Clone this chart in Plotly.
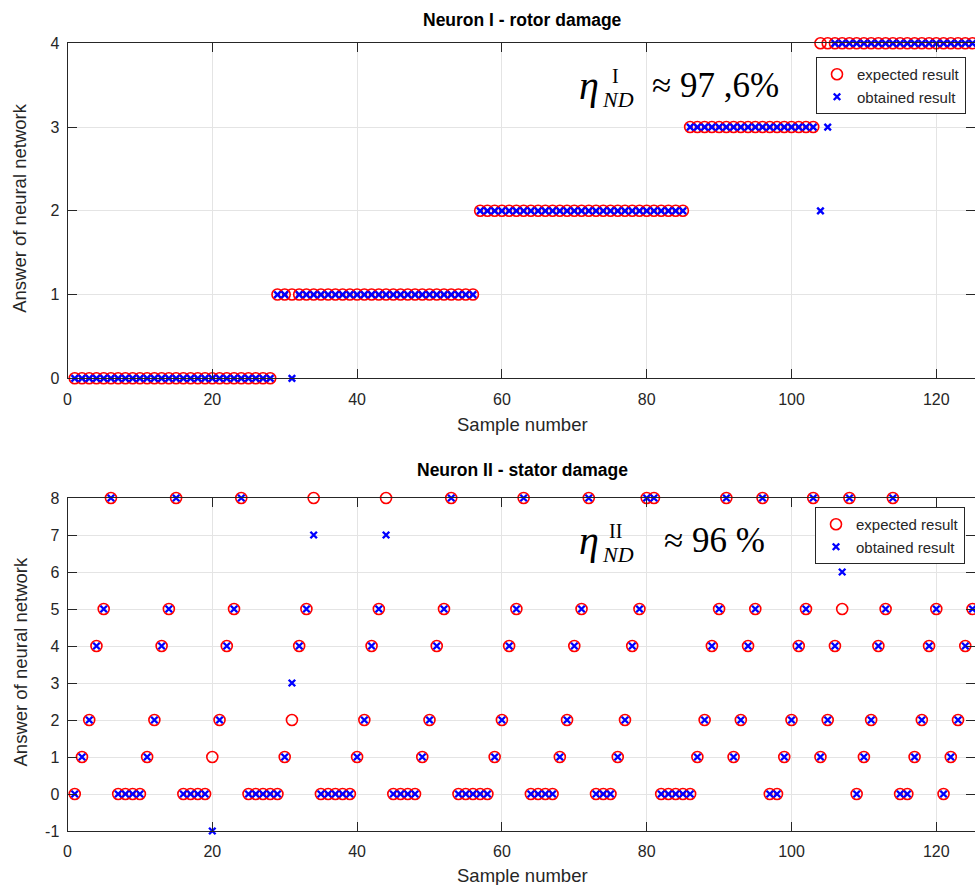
import plotly.graph_objects as go

W, H = 975, 885

# Sample index shared by both neurons
samples = list(range(1, 127))

# Neuron I - rotor damage
rotor_expected = [
    0, 0, 0, 0, 0, 0, 0, 0, 0, 0,
    0, 0, 0, 0, 0, 0, 0, 0, 0, 0,
    0, 0, 0, 0, 0, 0, 0, 0, 1, 1,
    1, 1, 1, 1, 1, 1, 1, 1, 1, 1,
    1, 1, 1, 1, 1, 1, 1, 1, 1, 1,
    1, 1, 1, 1, 1, 1, 2, 2, 2, 2,
    2, 2, 2, 2, 2, 2, 2, 2, 2, 2,
    2, 2, 2, 2, 2, 2, 2, 2, 2, 2,
    2, 2, 2, 2, 2, 3, 3, 3, 3, 3,
    3, 3, 3, 3, 3, 3, 3, 3, 3, 3,
    3, 3, 3, 4, 4, 4, 4, 4, 4, 4,
    4, 4, 4, 4, 4, 4, 4, 4, 4, 4,
    4, 4, 4, 4, 4, 4,
]
rotor_obtained = [
    0, 0, 0, 0, 0, 0, 0, 0, 0, 0,
    0, 0, 0, 0, 0, 0, 0, 0, 0, 0,
    0, 0, 0, 0, 0, 0, 0, 0, 1, 1,
    0, 1, 1, 1, 1, 1, 1, 1, 1, 1,
    1, 1, 1, 1, 1, 1, 1, 1, 1, 1,
    1, 1, 1, 1, 1, 1, 2, 2, 2, 2,
    2, 2, 2, 2, 2, 2, 2, 2, 2, 2,
    2, 2, 2, 2, 2, 2, 2, 2, 2, 2,
    2, 2, 2, 2, 2, 3, 3, 3, 3, 3,
    3, 3, 3, 3, 3, 3, 3, 3, 3, 3,
    3, 3, 3, 2, 3, 4, 4, 4, 4, 4,
    4, 4, 4, 4, 4, 4, 4, 4, 4, 4,
    4, 4, 4, 4, 4, 4,
]

# Neuron II - stator damage
stator_expected = [
    0, 1, 2, 4, 5, 8, 0, 0, 0, 0,
    1, 2, 4, 5, 8, 0, 0, 0, 0, 1,
    2, 4, 5, 8, 0, 0, 0, 0, 0, 1,
    2, 4, 5, 8, 0, 0, 0, 0, 0, 1,
    2, 4, 5, 8, 0, 0, 0, 0, 1, 2,
    4, 5, 8, 0, 0, 0, 0, 0, 1, 2,
    4, 5, 8, 0, 0, 0, 0, 1, 2, 4,
    5, 8, 0, 0, 0, 1, 2, 4, 5, 8,
    8, 0, 0, 0, 0, 0, 1, 2, 4, 5,
    8, 1, 2, 4, 5, 8, 0, 0, 1, 2,
    4, 5, 8, 1, 2, 4, 5, 8, 0, 1,
    2, 4, 5, 8, 0, 0, 1, 2, 4, 5,
    0, 1, 2, 4, 5, 8,
]
stator_obtained = [
    0, 1, 2, 4, 5, 8, 0, 0, 0, 0,
    1, 2, 4, 5, 8, 0, 0, 0, 0, -1,
    2, 4, 5, 8, 0, 0, 0, 0, 0, 1,
    3, 4, 5, 7, 0, 0, 0, 0, 0, 1,
    2, 4, 5, 7, 0, 0, 0, 0, 1, 2,
    4, 5, 8, 0, 0, 0, 0, 0, 1, 2,
    4, 5, 8, 0, 0, 0, 0, 1, 2, 4,
    5, 8, 0, 0, 0, 1, 2, 4, 5, 8,
    8, 0, 0, 0, 0, 0, 1, 2, 4, 5,
    8, 1, 2, 4, 5, 8, 0, 0, 1, 2,
    4, 5, 8, 1, 2, 4, 6, 8, 0, 1,
    2, 4, 5, 8, 0, 0, 1, 2, 4, 5,
    0, 1, 2, 4, 5, 8,
]

x_ticks = [0, 20, 40, 60, 80, 100, 120]
rotor_ticks = [0, 1, 2, 3, 4]
stator_ticks = [-1, 0, 1, 2, 3, 4, 5, 6, 7, 8]
stator_tick_labels = ["-1", "0", "1", "2", "3", "4", "5", "6", "7", "8"]

AX = "#262626"
GRID = "#e4e4e4"
SANS = "Liberation Sans, Arial, sans-serif"
SERIF = "Liberation Serif, Times New Roman, serif"


def px(x):
    return x / W


def py(y):
    return 1 - y / H


x_left, x_right = 67.5, 975.0
top_box = (43.3, 378.3)
bot_box = (498.0, 831.0)
x_scale = 7.24  # pixels per sample
x_max = (x_right - x_left) / x_scale

fig = go.Figure()

circle = dict(symbol="circle-open", size=11, color="#ff0000",
              line=dict(width=1.6, color="#ff0000"))
cross = dict(symbol="x-thin-open", size=6.5, color="#0000ff",
             line=dict(width=2.4, color="#0000ff"))

for exp, obt, xa, ya, leg in [
    (rotor_expected, rotor_obtained, "x", "y", "legend"),
    (stator_expected, stator_obtained, "x2", "y2", "legend2"),
]:
    fig.add_trace(go.Scatter(x=samples, y=exp, mode="markers", marker=circle,
                             name="expected result", xaxis=xa, yaxis=ya,
                             legend=leg, cliponaxis=False))
    fig.add_trace(go.Scatter(x=samples, y=obt, mode="markers", marker=cross,
                             name="obtained result", xaxis=xa, yaxis=ya,
                             legend=leg, cliponaxis=False))

common_x = dict(
    range=[0, x_max], domain=[px(x_left), 1.0], tickvals=x_ticks,
    ticks="inside", ticklen=9, tickcolor=AX, showline=True, linecolor=AX,
    linewidth=1, mirror="ticks", showgrid=True, gridcolor=GRID, zeroline=False,
    tickfont=dict(family=SANS, size=16, color=AX), ticklabelstandoff=6,
    automargin=False,
)
common_y = dict(
    ticks="inside", ticklen=9, tickcolor=AX, showline=True, linecolor=AX,
    linewidth=1, mirror="ticks", showgrid=True, gridcolor=GRID, zeroline=False,
    tickfont=dict(family=SANS, size=16, color=AX), ticklabelstandoff=4,
    automargin=False,
)

fig.update_layout(
    width=W, height=H,
    margin=dict(l=0, r=0, t=0, b=0),
    paper_bgcolor="white", plot_bgcolor="white",
    showlegend=True,
    xaxis=dict(common_x, anchor="y"),
    yaxis=dict(common_y, range=[0, 4], tickvals=rotor_ticks,
               domain=[py(top_box[1]), py(top_box[0])], anchor="x"),
    xaxis2=dict(common_x, anchor="y2"),
    yaxis2=dict(common_y, range=[-1, 8], tickvals=stator_ticks,
                ticktext=stator_tick_labels,
                domain=[py(bot_box[1]), py(bot_box[0])], anchor="x2"),
)

legend_style = dict(
    bgcolor="white", bordercolor=AX, borderwidth=1,
    font=dict(family=SANS, size=15, color=AX),
    xanchor="right", yanchor="top", itemwidth=30, tracegroupgap=0,
)
fig.update_layout(
    legend=dict(legend_style, x=px(966), y=py(57)),
    legend2=dict(legend_style, x=px(965), y=py(507)),
)

# Panel titles
for text, yc in [("Neuron I - rotor damage", 20), ("Neuron II - stator damage", 470)]:
    fig.add_annotation(text=f"<b>{text}</b>", x=px(522), y=py(yc),
                       xref="paper", yref="paper", showarrow=False,
                       xanchor="center", yanchor="middle",
                       font=dict(family=SANS, size=17.5, color="#000000"))

# Axis titles
label_font = dict(family=SANS, size=18.5, color=AX)
for y_x, box in [(424, top_box), (875, bot_box)]:
    fig.add_annotation(text="Sample number", x=px(522), y=py(y_x),
                       xref="paper", yref="paper", showarrow=False,
                       xanchor="center", yanchor="middle", font=label_font)
    fig.add_annotation(text="Answer of neural network", x=px(20),
                       y=py((box[0] + box[1]) / 2 - 2), textangle=-90,
                       xref="paper", yref="paper", showarrow=False,
                       xanchor="center", yanchor="middle", font=label_font)

# Classification accuracy of each neuron
for sup, value, y_base, x_val in [("I", "≈ 97 ,6%", 98, 650),
                                  ("II", "≈ 96 %", 553, 662)]:
    fig.add_annotation(text="<i>η</i>", x=px(577), y=py(y_base + 12),
                       xref="paper", yref="paper", showarrow=False,
                       xanchor="left", yanchor="bottom",
                       font=dict(family=SERIF, size=40, color="#000000"))
    fig.add_annotation(text=sup, x=px(615), y=py(y_base - 22),
                       xref="paper", yref="paper", showarrow=False,
                       xanchor="center", yanchor="middle",
                       font=dict(family=SERIF, size=20, color="#000000"))
    fig.add_annotation(text="<i>ND</i>", x=px(618), y=py(y_base + 1),
                       xref="paper", yref="paper", showarrow=False,
                       xanchor="center", yanchor="middle",
                       font=dict(family=SERIF, size=22, color="#000000"))
    fig.add_annotation(text=value, x=px(x_val), y=py(y_base + 9),
                       xref="paper", yref="paper", showarrow=False,
                       xanchor="left", yanchor="bottom",
                       font=dict(family=SERIF, size=35, color="#000000"))

fig.write_html("out.html")
